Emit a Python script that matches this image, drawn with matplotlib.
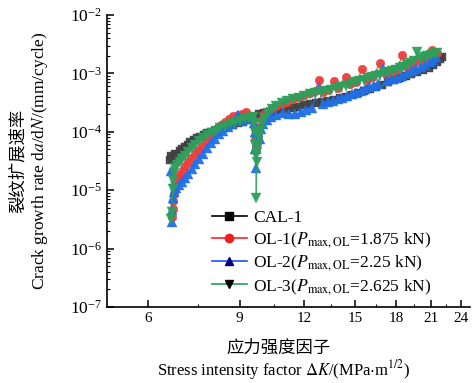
import matplotlib
matplotlib.use("Agg")
import matplotlib.pyplot as plt
from matplotlib.lines import Line2D
from matplotlib.ticker import FixedLocator, NullFormatter, LogLocator, LogFormatterMathtext

plt.rcParams['font.family'] = ['Liberation Serif', 'Noto Sans CJK SC']
plt.rcParams['mathtext.fontset'] = 'stix'

# ---------------- data ----------------
K_cal = [6.60, 6.64, 6.70, 6.76, 6.83, 6.90, 6.98, 7.06, 7.15, 7.24, 7.34, 7.44, 7.55, 7.67,
         7.80, 7.94, 8.08, 8.23, 8.39, 8.56, 8.74, 8.93, 9.13, 9.34, 9.56, 9.79, 10.03, 10.28,
         10.54, 10.81, 11.09, 11.38, 11.68, 11.99, 12.31, 12.64, 12.98, 13.33, 13.69, 14.06,
         14.44, 14.83, 15.23, 15.64, 16.06, 16.49, 16.93, 17.38, 17.84, 18.31, 18.79, 19.28,
         19.78, 20.29, 20.81, 21.25, 21.60, 21.85, 22.05]
R_cal = [3.3e-5, 3.9e-5, 3.5e-5, 4.2e-5, 4.0e-5, 4.7e-5, 5.0e-5, 5.6e-5, 5.9e-5, 6.6e-5, 7.1e-5,
         7.8e-5, 8.3e-5, 8.9e-5, 9.4e-5, 1.0e-4, 1.05e-4, 1.11e-4, 1.17e-4, 1.24e-4, 1.31e-4,
         1.39e-4, 1.48e-4, 1.60e-4, 1.78e-4, 2.0e-4, 2.1e-4, 2.2e-4, 2.3e-4, 2.4e-4, 2.5e-4,
         2.6e-4, 2.7e-4, 2.85e-4, 2.95e-4, 3.1e-4, 3.25e-4, 3.4e-4, 3.55e-4, 3.75e-4, 4.0e-4,
         4.3e-4, 4.6e-4, 5.0e-4, 5.4e-4, 5.9e-4, 6.4e-4, 7.0e-4, 7.6e-4, 8.3e-4, 9.0e-4, 9.8e-4,
         1.06e-3, 1.15e-3, 1.26e-3, 1.4e-3, 1.55e-3, 1.75e-3, 1.9e-3]

K_ol1 = [6.68, 6.69, 6.70, 6.72, 6.75, 6.79, 6.85, 6.92, 7.00, 7.08, 7.17, 7.27, 7.38, 7.50,
         7.62, 7.75, 7.88, 8.00, 8.13, 8.27, 8.42, 8.58, 8.75, 8.92, 9.10, 9.28, 9.45, 9.57,
         9.62, 9.65, 9.67, 9.70, 9.75, 9.82, 9.92, 10.05, 10.2, 10.4, 10.6, 10.85, 11.1, 11.4,
         11.7, 12.0, 12.3, 12.55, 12.8, 13.0, 13.3, 13.7, 13.95, 14.4, 14.7, 15.1, 15.5, 15.8,
         16.2, 16.8, 17.2, 17.7, 18.1, 18.5, 18.9, 19.4, 19.9, 20.4, 20.9, 21.1, 21.35, 21.55]
R_ol1 = [3.5e-6, 4.8e-6, 6.5e-6, 8.5e-6, 1.1e-5, 1.35e-5, 1.6e-5, 1.9e-5, 2.2e-5, 2.6e-5,
         3.0e-5, 3.5e-5, 4.1e-5, 4.9e-5, 5.8e-5, 6.9e-5, 8.2e-5, 1.0e-4, 1.12e-4, 1.3e-4,
         1.5e-4, 1.65e-4, 1.85e-4, 1.95e-4, 2.05e-4, 2.2e-4, 1.9e-4, 1.6e-4, 1.1e-4, 7.5e-5,
         4.9e-5, 6.0e-5, 8.5e-5, 1.2e-4, 1.6e-4, 2.0e-4, 2.3e-4, 2.6e-4, 2.8e-4, 3.0e-4,
         3.3e-4, 3.6e-4, 3.9e-4, 4.2e-4, 4.6e-4, 5.0e-4, 7.7e-4, 4.9e-4, 5.3e-4, 7.4e-4,
         5.7e-4, 8.7e-4, 6.5e-4, 7.0e-4, 1.19e-3, 7.8e-4, 8.6e-4, 1.5e-3, 9.6e-4, 1.05e-3,
         1.15e-3, 2.06e-3, 1.3e-3, 1.45e-3, 1.6e-3, 1.8e-3, 2.0e-3, 2.5e-3, 2.3e-3, 2.2e-3]

K_ol2 = [6.64, 6.66, 6.68, 6.70, 6.74, 6.80, 6.88, 6.97, 7.07, 7.17, 7.28, 7.40, 7.52, 7.65,
         7.78, 7.92, 8.06, 8.21, 8.37, 8.54, 8.72, 8.95, 9.1, 9.3, 9.48, 9.58, 9.62, 9.64, 9.66,
         9.68, 9.72, 9.78, 9.85, 9.9, 10.0, 10.15, 10.35, 10.6, 10.9, 11.2, 11.5, 11.8, 12.1,
         12.4, 12.8, 13.0, 13.3, 13.6, 13.9, 14.2, 14.5, 14.8, 15.1, 15.4, 15.7, 16.0, 16.3,
         16.6, 17.0, 17.3, 17.7, 18.1, 18.5, 18.9, 19.3, 19.7, 20.1, 20.5, 20.9, 21.2, 21.5]
R_ol2 = [2.1e-5, 2.8e-6, 4.5e-6, 7.5e-6, 9.5e-6, 1.1e-5, 1.25e-5, 1.4e-5, 1.6e-5, 1.9e-5,
         2.3e-5, 2.8e-5, 3.4e-5, 4.2e-5, 5.2e-5, 6.4e-5, 7.6e-5, 9.0e-5, 1.05e-4, 1.2e-4,
         1.35e-4, 1.95e-4, 1.55e-4, 1.65e-4, 1.75e-4, 1.4e-4, 1.0e-4, 5.0e-5, 2.4e-5, 5.0e-5,
         7.0e-5, 1.0e-4, 7.5e-5, 1.1e-4, 1.35e-4, 1.6e-4, 1.8e-4, 1.95e-4, 2.1e-4, 2.05e-4,
         2.0e-4, 2.15e-4, 2.4e-4, 2.6e-4, 5.6e-4, 3.0e-4, 3.2e-4, 3.4e-4, 3.6e-4, 3.8e-4,
         4.1e-4, 4.4e-4, 4.7e-4, 5.0e-4, 5.4e-4, 5.8e-4, 6.2e-4, 6.6e-4, 1.2e-3, 7.4e-4,
         7.9e-4, 8.5e-4, 9.2e-4, 1.0e-3, 1.08e-3, 1.17e-3, 1.27e-3, 1.4e-3, 1.55e-3, 1.7e-3,
         1.9e-3]

K_ol3 = [6.65, 6.67, 6.69, 6.71, 6.73, 6.77, 6.83, 6.90, 6.98, 7.07, 7.17, 7.28, 7.40, 7.53,
         7.66, 7.80, 7.95, 8.10, 8.26, 8.43, 8.61, 8.80, 9.00, 9.20, 9.40, 9.55, 9.60, 9.63,
         9.65, 9.67, 9.69, 9.71, 9.73, 9.76, 9.80, 9.86, 9.94, 10.05, 10.2, 10.4, 10.6, 10.85,
         11.1, 11.4, 11.7, 12.0, 12.3, 12.6, 12.9, 13.2, 13.5, 13.8, 14.1, 14.4, 14.7, 15.0,
         15.3, 15.6, 15.9, 16.2, 16.5, 16.8, 17.1, 17.4, 17.7, 18.0, 18.3, 18.6, 18.9, 19.2,
         19.5, 19.8, 20.1, 20.4, 20.7, 21.0, 21.3, 21.6]
R_ol3 = [3.2e-6, 4.2e-6, 1.05e-5, 1.5e-5, 2.0e-5, 2.4e-5, 2.7e-5, 3.0e-5, 3.4e-5, 3.9e-5,
         4.5e-5, 5.2e-5, 6.0e-5, 6.9e-5, 7.8e-5, 8.7e-5, 9.6e-5, 1.05e-4, 1.14e-4, 1.24e-4,
         1.34e-4, 1.44e-4, 1.55e-4, 1.65e-4, 1.75e-4, 1.8e-4, 1.4e-4, 1.0e-4, 6.0e-5, 4.0e-5,
         7.4e-6, 3.0e-5, 4.5e-5, 6.0e-5, 8.0e-5, 1.05e-4, 1.35e-4, 1.7e-4, 2.1e-4, 2.5e-4,
         2.8e-4, 3.1e-4, 3.35e-4, 3.6e-4, 3.85e-4, 4.1e-4, 4.4e-4, 4.6e-4, 4.8e-4, 5.0e-4,
         5.3e-4, 5.6e-4, 5.9e-4, 6.2e-4, 6.6e-4, 7.0e-4, 7.4e-4, 7.8e-4, 8.2e-4, 8.6e-4,
         9.0e-4, 9.5e-4, 1.0e-3, 1.05e-3, 1.1e-3, 1.16e-3, 1.22e-3, 1.3e-3, 1.4e-3, 1.5e-3,
         1.65e-3, 2.3e-3, 1.8e-3, 1.9e-3, 2.0e-3, 2.05e-3, 2.15e-3, 2.25e-3]

labels = ["CAL-1",
          r"OL-1($P_{\mathrm{max,OL}}$=1.875 kN)",
          r"OL-2($P_{\mathrm{max,OL}}$=2.25 kN)",
          r"OL-3($P_{\mathrm{max,OL}}$=2.625 kN)"]
x_ticks = [6, 9, 12, 15, 18, 21, 24]
x_minor = [7.5, 10.5, 13.5, 16.5, 19.5, 22.5]

# ---------------- plot ----------------
fig = plt.figure(figsize=(4.72, 3.83), dpi=100)
ax = fig.add_axes([0.2267, 0.1984, 0.7691, 0.7624])

c_blk, c_red, c_blu, c_grn = '#404040', '#ee3d3d', '#2070e6', '#2f9f5c'
series = [(K_cal, R_cal, c_blk, 's', 5.8), (K_ol1, R_ol1, c_red, 'o', 6.2),
          (K_ol2, R_ol2, c_blu, '^', 6.6), (K_ol3, R_ol3, c_grn, 'v', 6.6)]
for K, R, c, m, ms in series:
    ax.plot(K, R, color=c, lw=0.8, marker=m, ms=ms, mec=c, mew=0.3, alpha=0.95)

ax.set_xscale('log')
ax.set_yscale('log')
ax.set_xlim(5, 25)
ax.set_ylim(1e-7, 1e-2)

ax.xaxis.set_major_locator(FixedLocator(x_ticks))
ax.xaxis.set_minor_locator(FixedLocator(x_minor))
ax.set_xticklabels([str(t) for t in x_ticks])
ax.xaxis.set_minor_formatter(NullFormatter())
ax.yaxis.set_major_locator(LogLocator(base=10, numticks=10))
ax.yaxis.set_minor_locator(LogLocator(base=10, subs=range(2, 10), numticks=20))
ax.yaxis.set_major_formatter(LogFormatterMathtext())
ax.yaxis.set_minor_formatter(NullFormatter())

for s in ['top', 'right']:
    ax.spines[s].set_visible(False)
for s in ['left', 'bottom']:
    ax.spines[s].set_linewidth(1.2)
ax.tick_params(which='major', direction='in', length=5, width=1.1)
ax.tick_params(which='minor', direction='in', length=2.5, width=0.8)
ax.tick_params(axis='x', labelsize=11)
ax.tick_params(axis='y', labelsize=12.5)

handles = [Line2D([], [], color='black', marker='s', mfc='black', mec='black', ms=5.5, lw=1.2),
           Line2D([], [], color='#ff2020', marker='o', mfc='#ee2020', mec='#ee2020', ms=6, lw=1.2),
           Line2D([], [], color='#1a50ff', marker='^', mfc='#00007a', mec='#00007a', ms=6, lw=1.2),
           Line2D([], [], color='#22a050', marker='v', mfc='black', mec='black', ms=6, lw=1.2)]
ax.legend(handles, labels, loc='lower left', bbox_to_anchor=(0.26, 0.0), frameon=False,
          fontsize=12.5, handlelength=2.0, handletextpad=0.4, labelspacing=0.2,
          borderaxespad=0.2)

fig.text(0.038, 0.58, "裂纹扩展速率", rotation=90, ha='center', va='center',
         fontsize=12.5, family=['Noto Sans CJK SC'])
fig.text(0.085, 0.58, r"Crack growth rate d$a$/d$N$/(mm/cycle)", rotation=90,
         ha='center', va='center', fontsize=12.5)
fig.text(0.59, 0.091, "应力强度因子", ha='center', va='center', fontsize=12.5,
         family=['Noto Sans CJK SC'])
fig.text(0.60, 0.034, r"Stress intensity factor $\Delta K$/(MPa$\cdot$m$^{1/2}$)",
         ha='center', va='center', fontsize=12)

fig.savefig("out.png", dpi=100)
